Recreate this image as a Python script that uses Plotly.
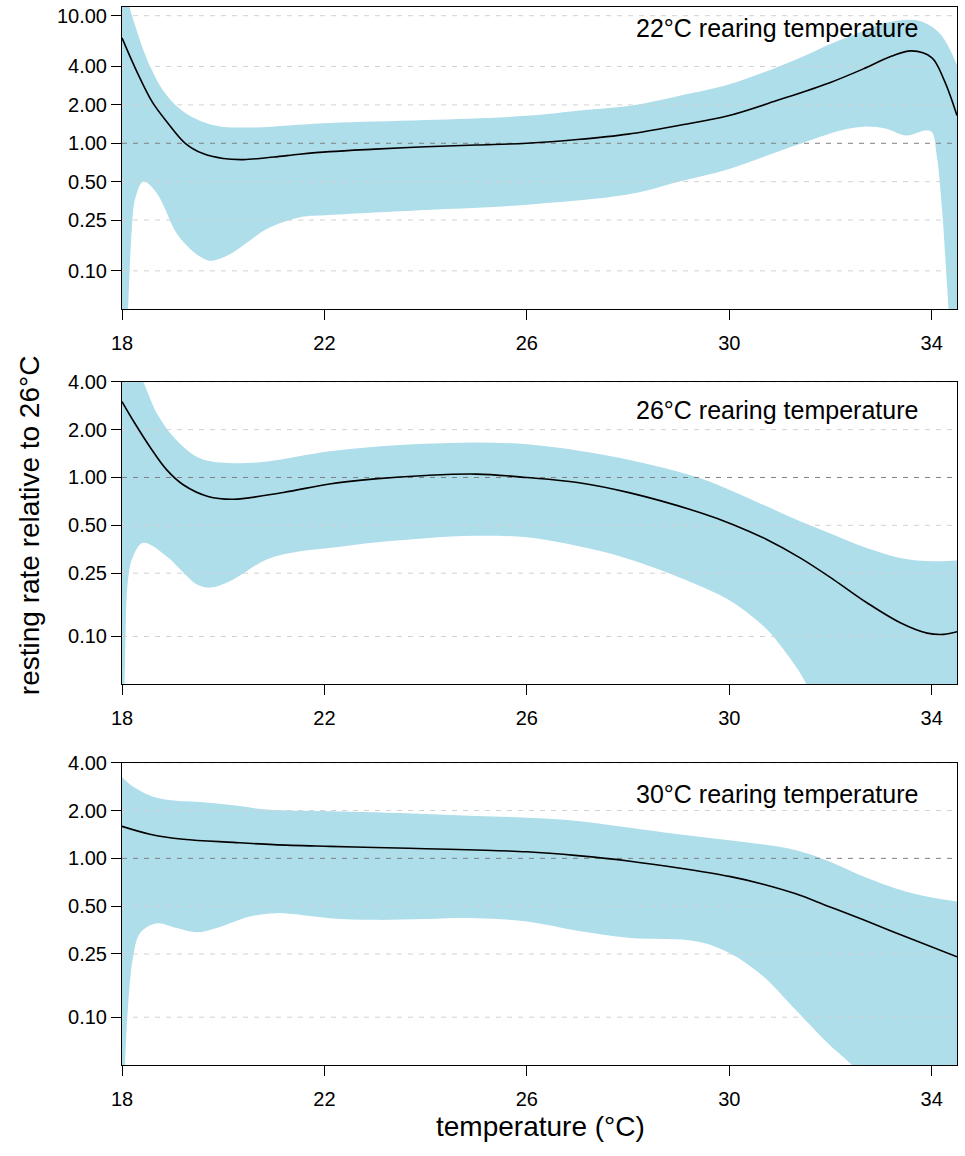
import math
import plotly.graph_objects as go

# ---- 22°C rearing temperature -------------------------------------------
t22_fit = [18.0, 18.3, 18.6, 18.9, 19.25, 19.6, 20.0, 20.4, 21.0, 21.5, 22.1, 23, 24, 25,
           26, 27, 28, 29, 30, 31, 32, 32.65, 33.2, 33.6, 34.0, 34.25, 34.5]
fit22 = [6.7, 3.6, 2.1, 1.45, 1.0, 0.83, 0.76, 0.745, 0.78, 0.82, 0.86, 0.90, 0.94, 0.97,
         1.0, 1.07, 1.18, 1.38, 1.65, 2.2, 3.0, 3.83, 4.8, 5.3, 4.7, 3.1, 1.65]
t22_up = [18.0, 18.1, 18.22, 18.55, 18.89, 19.28, 19.87, 20.53, 21.3, 22.1, 24, 26, 27,
          28.04, 29, 30, 31.3, 32.0, 32.65, 33.0, 33.5, 33.8, 34.17, 34.5]
up22 = [25, 14, 9.4, 4.06, 2.36, 1.70, 1.37, 1.33, 1.38, 1.44, 1.52, 1.64, 1.8,
        1.97, 2.35, 2.9, 4.5, 6.0, 7.6, 8.6, 9.3, 9.0, 7.2, 4.1]
t22_lo = [18.0, 18.08, 18.12, 18.19, 18.26, 18.42, 18.68, 19.07, 19.3, 19.53, 19.72, 19.95,
          20.2, 20.5, 20.86, 21.52, 22.1, 24, 26, 28.04, 29, 30, 31.3, 32.2, 32.65, 33.1,
          33.5, 33.87, 34.0, 34.1, 34.2, 34.3, 34.35, 34.5]
lo22 = [0.01, 0.02, 0.05, 0.2, 0.366, 0.50, 0.41, 0.20, 0.155, 0.13, 0.12, 0.125,
        0.14, 0.17, 0.213, 0.263, 0.274, 0.30, 0.33, 0.40, 0.5, 0.63, 0.96, 1.26, 1.35,
        1.3, 1.15, 1.26, 1.23, 0.8, 0.32, 0.081, 0.04, 0.01]

# ---- 26°C rearing temperature -------------------------------------------
t26_fit = [18.0, 18.25, 18.55, 18.88, 19.21, 19.7, 20.2, 21.19, 22.1, 23, 24, 25, 26, 27,
           28.04, 29.43, 30.08, 30.74, 31.4, 32.06, 32.72, 33.38, 33.91, 34.24, 34.5]
fit26 = [3.0, 2.2, 1.56, 1.12, 0.90, 0.76, 0.73, 0.805, 0.91, 0.98, 1.03, 1.05, 1.0, 0.93,
         0.80, 0.60, 0.505, 0.407, 0.312, 0.228, 0.163, 0.122, 0.105, 0.103, 0.107]
t26_up = [18.0, 18.2, 18.42, 18.69, 19.01, 19.54, 20.2, 20.86, 22.1, 23, 24, 25, 26, 27,
          28.04, 29.43, 30.08, 30.74, 31.4, 32.06, 32.72, 33.38, 34.04, 34.5]
up26 = [9.0, 5.5, 4.0, 2.53, 1.81, 1.32, 1.23, 1.26, 1.46, 1.56, 1.63, 1.66, 1.62, 1.48,
        1.29, 0.99, 0.817, 0.658, 0.53, 0.437, 0.36, 0.312, 0.297, 0.30]
t26_lo = [18.0, 18.06, 18.12, 18.22, 18.42, 18.88, 19.28, 19.45, 19.67, 19.9, 20.2, 20.86,
          21.52, 22.1, 23, 24, 25, 26, 27, 28.04, 29.43, 30.08, 30.74, 31.07, 31.4, 31.53,
          32, 33, 34.5]
lo26 = [0.01, 0.069, 0.228, 0.32, 0.388, 0.32, 0.24, 0.215, 0.203, 0.208, 0.228, 0.305,
        0.343, 0.36, 0.39, 0.415, 0.43, 0.42, 0.37, 0.305, 0.207, 0.163, 0.111, 0.083,
        0.059, 0.05, 0.03, 0.01, 0.005]

# ---- 30°C rearing temperature -------------------------------------------
t30_fit = [18.0, 18.55, 19.21, 20.2, 21, 22.1, 23, 24, 25, 26, 27, 28.04, 29, 30, 30.65,
           31.3, 31.95, 32.65, 33.64, 34.5]
fit30 = [1.59, 1.42, 1.32, 1.26, 1.22, 1.19, 1.17, 1.15, 1.13, 1.10, 1.04, 0.96, 0.87,
         0.77, 0.69, 0.60, 0.50, 0.41, 0.307, 0.24]
t30_up = [18.0, 18.2, 18.55, 18.89, 19.54, 20.2, 20.86, 22.1, 23, 24, 25, 26, 27, 28.04,
          29, 30, 31.3, 32.0, 32.65, 33.64, 34.5]
up30 = [3.25, 2.85, 2.49, 2.34, 2.26, 2.16, 2.03, 1.98, 1.95, 1.9, 1.85, 1.8, 1.72, 1.56,
        1.42, 1.30, 1.13, 0.95, 0.77, 0.60, 0.535]
t30_lo = [18.0, 18.06, 18.12, 18.22, 18.36, 18.69, 19.08, 19.48, 19.87, 20.53, 21.06,
          22.1, 23, 24, 25, 26, 27, 28.04, 29.36, 30, 30.67, 31.3, 32.0, 32.42, 33, 34.5]
lo30 = [0.01, 0.05, 0.117, 0.24, 0.339, 0.39, 0.364, 0.342, 0.364, 0.43, 0.452,
        0.42, 0.41, 0.415, 0.42, 0.40, 0.35, 0.315, 0.30, 0.254, 0.181, 0.112, 0.066, 0.05,
        0.03, 0.01]

panel_titles = ["22°C rearing temperature", "26°C rearing temperature",
                "30°C rearing temperature"]
x_ticks = [18, 22, 26, 30, 34]
y_ticks_top = [0.10, 0.25, 0.50, 1.00, 2.00, 4.00, 10.00]
y_ticks = [0.10, 0.25, 0.50, 1.00, 2.00, 4.00]
x_range = [18, 34.5]
y_max_top = 11.7
y_max = 4.0
y_min = 0.05

FONT = "Liberation Sans, Arial, Helvetica, sans-serif"
BAND = "#afdeeb"
GRID_LIGHT = "#d2d2d2"
GRID_REF = "#808080"
SMOOTH = 1.0

panels = [
    (t22_fit, fit22, t22_up, up22, t22_lo, lo22, y_ticks_top, y_max_top),
    (t26_fit, fit26, t26_up, up26, t26_lo, lo26, y_ticks, y_max),
    (t30_fit, fit30, t30_up, up30, t30_lo, lo30, y_ticks, y_max),
]
domains = [[0.7143, 1.0], [0.3598, 0.6458], [0.0, 0.2857]]
label_y = [0.931, 0.905, 0.898]

fig = go.Figure()
layout_axes = {}
annotations = []

for i, (tf, yf, tu, yu, tl, yl, yt, ymax) in enumerate(panels):
    n = "" if i == 0 else str(i + 1)
    xa, ya = "x" + n, "y" + n

    # confidence band
    fig.add_trace(go.Scatter(x=tl, y=yl, mode="lines", line=dict(width=0, shape="spline",
                             smoothing=SMOOTH, color=BAND), xaxis=xa, yaxis=ya,
                             hoverinfo="skip"))
    fig.add_trace(go.Scatter(x=tu, y=yu, mode="lines", fill="tonexty", fillcolor=BAND,
                             line=dict(width=0, shape="spline", smoothing=SMOOTH,
                                       color=BAND),
                             xaxis=xa, yaxis=ya, hoverinfo="skip"))

    # dashed reference lines at each tick value, drawn above the band
    for v in yt:
        fig.add_trace(go.Scatter(
            x=x_range, y=[v, v], mode="lines", xaxis=xa, yaxis=ya, hoverinfo="skip",
            line=dict(color=GRID_REF if v == 1.0 else GRID_LIGHT, width=1,
                      dash="5px,6px")))

    # fitted curve
    fig.add_trace(go.Scatter(x=tf, y=yf, mode="lines", xaxis=xa, yaxis=ya,
                             line=dict(color="black", width=1.6, shape="spline",
                                       smoothing=SMOOTH)))

    layout_axes["xaxis" + n] = dict(
        range=x_range, anchor=ya, tickvals=x_ticks, ticktext=[str(t) for t in x_ticks],
        ticks="outside", ticklen=10, tickwidth=1, tickcolor="black", showline=True,
        linecolor="black", linewidth=1, mirror=True, showgrid=False, zeroline=False,
        automargin=False, tickfont=dict(size=20, family=FONT, color="black"),
        ticklabelstandoff=6)
    layout_axes["yaxis" + n] = dict(
        type="log", range=[math.log10(y_min), math.log10(ymax)], domain=domains[i],
        anchor=xa, tickvals=yt, ticktext=[f"{v:.2f}" for v in yt], ticks="outside",
        ticklen=10, tickwidth=1, tickcolor="black", showline=True, linecolor="black",
        linewidth=1, mirror=True, showgrid=False, zeroline=False, automargin=False,
        tickfont=dict(size=20, family=FONT, color="black"))

    annotations.append(dict(
        text=panel_titles[i], xref=xa + " domain", yref=ya + " domain", x=0.956,
        y=label_y[i], xanchor="right", yanchor="middle", showarrow=False,
        font=dict(size=25, family=FONT, color="black")))

annotations.append(dict(
    text="resting rate relative to 26°C", xref="paper", yref="paper", x=-0.110, y=0.5104,
    xanchor="center", yanchor="middle", textangle=-90, showarrow=False,
    font=dict(size=28, family=FONT, color="black")))
annotations.append(dict(
    text="temperature (°C)", xref="paper", yref="paper", x=0.5006, y=-0.0586,
    xanchor="center", yanchor="middle", showarrow=False,
    font=dict(size=28, family=FONT, color="black")))

fig.update_layout(
    width=965, height=1156, margin=dict(l=122, r=8, t=7, b=91, autoexpand=False),
    paper_bgcolor="white", plot_bgcolor="white", showlegend=False,
    font=dict(family=FONT, color="black"), annotations=annotations, **layout_axes)

fig.write_html("out.html")
